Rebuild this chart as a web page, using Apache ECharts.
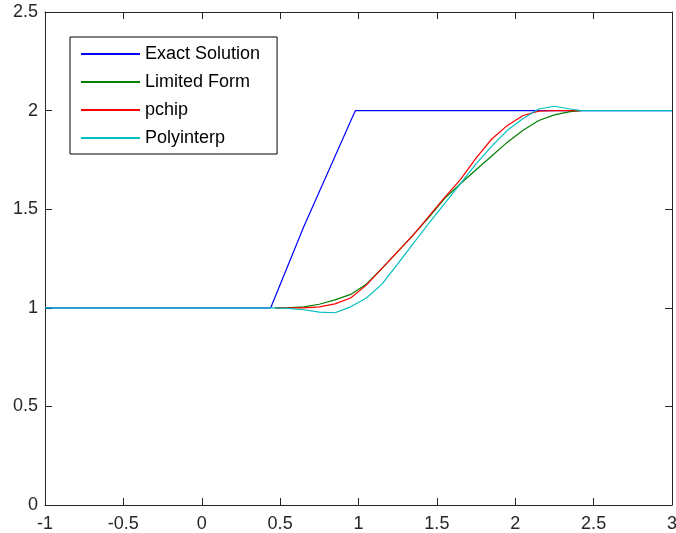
<!DOCTYPE html>
<html>
<head>
<meta charset="utf-8">
<script src="https://cdn.jsdelivr.net/npm/echarts@6/dist/echarts.min.js"></script>
<style>
  html, body { margin: 0; padding: 0; background: #fff; }
  #chart { width: 676px; height: 533px; }
</style>
</head>
<body>
<div id="chart"></div>
<script>
// series names
const seriesNames = ['Exact Solution', 'Limited Form', 'pchip', 'Polyinterp']

// exact solution
const exactX = [-1, 0.44, 0.65, 0.98, 3]
const exactY = [1, 1, 1.41, 2, 2]

// shared x for the approximations
const curveX = [0.47, 0.55, 0.65, 0.75, 0.85, 0.95, 1.05, 1.15, 1.25, 1.35, 1.45, 1.55, 1.65, 1.75, 1.85, 1.95, 2.05, 2.15, 2.25, 2.35, 2.42]
const limitedY = [1, 1, 1.005, 1.018, 1.04, 1.068, 1.12, 1.2, 1.285, 1.37, 1.46, 1.555, 1.629, 1.7, 1.77, 1.84, 1.9, 1.95, 1.978, 1.995, 2]
const pchipY = [1, 1, 1, 1.005, 1.02, 1.05, 1.115, 1.2, 1.285, 1.37, 1.465, 1.56, 1.65, 1.759, 1.856, 1.925, 1.975, 1.997, 2, 2, 2]
const polyY = [1, 0.997, 0.99, 0.978, 0.975, 1.005, 1.05, 1.12, 1.223, 1.327, 1.43, 1.53, 1.63, 1.73, 1.82, 1.9, 1.96, 2.008, 2.022, 2.008, 2]
// polyinterp runs over the whole domain
const polyX = [-1].concat(curveX, [3])
const polyFullY = [1].concat(polyY, [2])

const colors = ['#0000ff', '#008000', '#ff0000', '#00bfbf']

function zip(xs, ys) {
    return xs.map((x, i) => [x, ys[i]])
}

let chart = echarts.init(document.getElementById('chart'), null, { renderer: 'canvas' })

const axisColor = '#262626'
const labelFont = { fontFamily: 'Liberation Sans, Arial', fontSize: 18, color: '#262626' }

function xAxisOf(pos, labels) {
    return {
        type: 'value', position: pos, min: -1, max: 3, interval: 0.5,
        axisLine: { show: true, onZero: false, lineStyle: { color: axisColor, width: 1 } },
        axisTick: { show: true, inside: true, length: 7, lineStyle: { color: axisColor } },
        axisLabel: Object.assign({ show: labels, margin: 10 }, labelFont),
        splitLine: { show: false }
    }
}
function yAxisOf(pos, labels) {
    return {
        type: 'value', position: pos, min: 0, max: 2.5, interval: 0.5,
        axisLine: { show: true, onZero: false, lineStyle: { color: axisColor, width: 1 } },
        axisTick: { show: true, inside: true, length: 7, lineStyle: { color: axisColor } },
        axisLabel: Object.assign({ show: labels, margin: 7 }, labelFont),
        splitLine: { show: false }
    }
}

const lines = [zip(exactX, exactY), zip(curveX, limitedY), zip(curveX, pchipY), zip(polyX, polyFullY)]

let option = {
    animation: false,
    backgroundColor: '#fff',
    grid: { left: 45, right: 4, top: 12, bottom: 28, outerBoundsMode: 'none' },
    xAxis: [xAxisOf('bottom', true), xAxisOf('top', false)],
    yAxis: [yAxisOf('left', true), yAxisOf('right', false)],
    legend: {
        orient: 'vertical',
        left: 70,
        top: 37,
        padding: [8, 17, 7, 10],
        itemWidth: 59,
        itemHeight: 14,
        itemGap: 10,
        borderColor: '#000',
        borderWidth: 1,
        backgroundColor: '#fff',
        itemStyle: { opacity: 0 },
        textStyle: { fontFamily: 'Liberation Sans, Arial', fontSize: 18, color: '#000', lineHeight: 18 },
        data: seriesNames
    },
    series: lines.map((d, i) => ({
        name: seriesNames[i],
        type: 'line',
        data: d,
        showSymbol: false,
        symbol: 'none',
        color: colors[i],
        lineStyle: { width: 1.2, color: colors[i] }
    }))
}

chart.setOption(option)
</script>
</body>
</html>
